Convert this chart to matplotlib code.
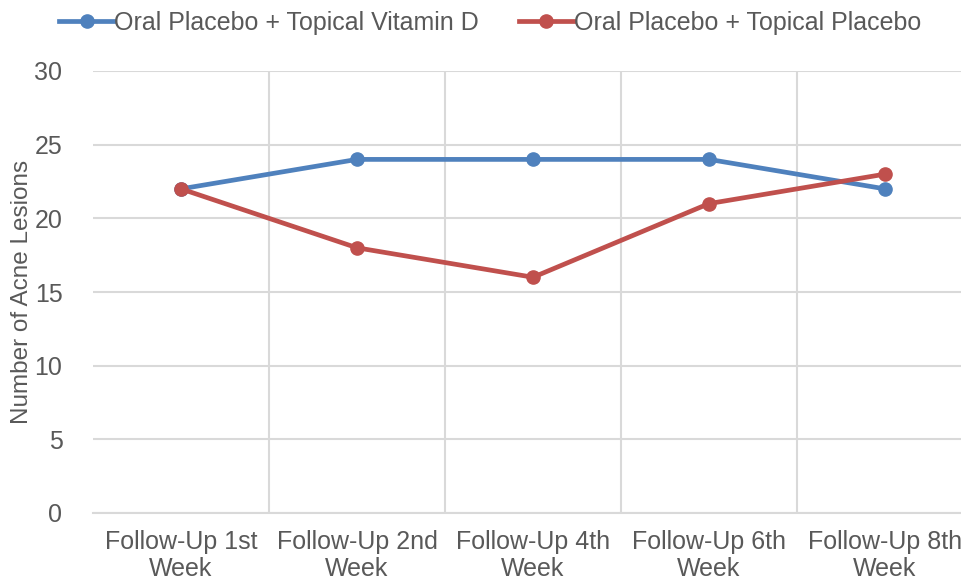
import matplotlib
matplotlib.use("Agg")
import matplotlib.pyplot as plt
import numpy as np

plt.rcParams['font.family'] = ['Liberation Sans', 'DejaVu Sans']

categories = ["Follow-Up 1st\nWeek", "Follow-Up 2nd\nWeek", "Follow-Up 4th\nWeek",
              "Follow-Up 6th\nWeek", "Follow-Up 8th\nWeek"]
vitamin_d = [22, 24, 24, 24, 22]
placebo = [22, 18, 16, 21, 23]
series_names = ["Oral Placebo + Topical Vitamin D", "Oral Placebo + Topical Placebo"]

text_col = "#595959"
grid_col = "#D9D9D9"
fs = 18

fig = plt.figure(figsize=(9.61, 5.84), dpi=100)
ax = fig.add_axes([93 / 961, 1 - 513 / 584, 880 / 961, 442 / 584])

x = np.arange(len(categories))
ax.plot(x, vitamin_d, color="#4F81BD", lw=3.4, marker="o", ms=9.5, label=series_names[0])
ax.plot(x, placebo, color="#C0504D", lw=3.4, marker="o", ms=9.5, label=series_names[1])

ax.set_xlim(-0.5, len(categories) - 0.5)
ax.set_ylim(0, 30)
ax.set_yticks(range(0, 31, 5))
ax.set_xticks(x)
ax.set_xticklabels(categories)
ax.set_xticks(np.arange(0.5, len(categories) - 1, 1), minor=True)

ax.grid(axis="y", color=grid_col, lw=1.5)
ax.grid(axis="x", which="minor", color=grid_col, lw=1.5)
ax.set_axisbelow(True)
for s in ["top", "right", "left"]:
    ax.spines[s].set_visible(False)
ax.spines["bottom"].set_color(grid_col)
ax.spines["bottom"].set_linewidth(1.5)
ax.tick_params(which="both", length=0)
ax.tick_params(axis="both", labelsize=fs, colors=text_col)
ax.tick_params(axis="y", pad=22)
ax.tick_params(axis="x", pad=12)
for t in ax.get_xticklabels():
    t.set_linespacing(1.2)

ax.set_ylabel("Number of Acne Lesions", fontsize=17.5, color=text_col)
ax.yaxis.set_label_coords(-60 / 880, 0.5)

fig.legend(loc="upper center", bbox_to_anchor=(0.51, 1.02), ncol=2, frameon=False,
           fontsize=fs, labelcolor=text_col, handlelength=2.2, handletextpad=0.0,
           columnspacing=1.6)

fig.savefig("out.png", dpi=100)
